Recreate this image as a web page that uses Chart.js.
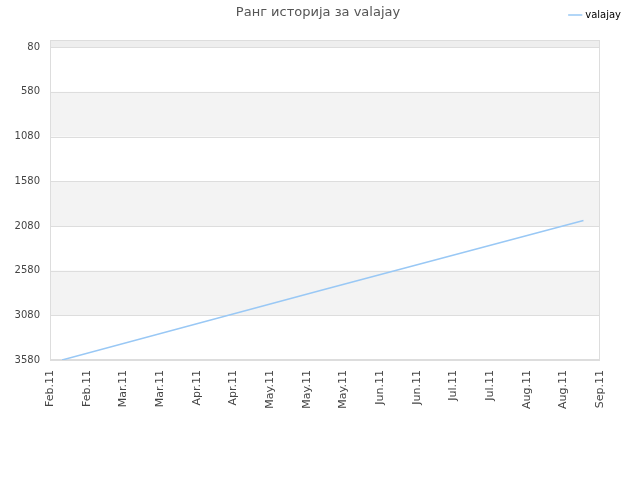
<!DOCTYPE html>
<html>
<head>
<meta charset="utf-8">
<script src="https://cdn.jsdelivr.net/npm/chart.js@4/dist/chart.umd.min.js"></script>
<style>
  body { margin: 0; background: #fff; }
  #wrap { position: relative; width: 640px; height: 480px; }
  #title { position: absolute; top: 4px; left: 0; width: 636px; text-align: center;
           font: 13px "DejaVu Sans", sans-serif; color: #555; }
</style>
</head>
<body>
<div id="wrap">
  <div id="title">Ранг историја за valajay</div>
  <canvas id="rankChart" width="640" height="480"></canvas>
</div>
<script>
// data
const xLabels = ['Feb.11', 'Feb.11', 'Mar.11', 'Mar.11', 'Apr.11', 'Apr.11', 'May.11', 'May.11',
                 'May.11', 'Jun.11', 'Jun.11', 'Jul.11', 'Jul.11', 'Aug.11', 'Aug.11', 'Sep.11'];
const rankPos = [0.33, 7.4, 14.55];
const rankValues = [3580, 2800, 2020];
const yTicks = [80, 580, 1080, 1580, 2080, 2580, 3080, 3580];
const seriesName = 'valajay';

// alternating bands + frame
const bands = {
    id: 'bands',
    beforeDatasetsDraw(chart) {
        const ctx = chart.ctx;
        const area = chart.chartArea;
        const y = chart.scales.y;
        const edges = [0].concat(yTicks);
        ctx.save();
        for (let i = 0; i < edges.length - 1; i++) {
            if (i % 2 == 1) continue;
            const y1 = y.getPixelForValue(edges[i]);
            const y2 = y.getPixelForValue(edges[i + 1]);
            ctx.fillStyle = i == 0 ? '#eeeeee' : '#f3f3f3';
            ctx.fillRect(area.left, y1, area.right - area.left, y2 - y1);
        }
        ctx.strokeStyle = '#dddddd';
        ctx.lineWidth = 1;
        for (const t of yTicks) {
            const py = Math.round(y.getPixelForValue(t)) + 0.5;
            ctx.beginPath();
            ctx.moveTo(area.left, py);
            ctx.lineTo(area.right, py);
            ctx.stroke();
        }
        ctx.strokeRect(area.left + 0.5, area.top + 0.5, area.right - area.left - 1, area.bottom - area.top - 1);
        ctx.restore();
    }
};

// empty axes used only as spacers
const spacer = size => ({
    display: true,
    grid: {display: false, drawTicks: false},
    border: {display: false},
    ticks: {display: false},
    afterFit(scale) {
        if (scale.isHorizontal()) scale.height = size; else scale.width = size;
    }
});

const ctx = document.getElementById('rankChart').getContext('2d');
new Chart(ctx, {
    type: 'line',
    data: {
        datasets: [{
            label: seriesName,
            data: rankPos.map((x, i) => ({x: x, y: rankValues[i]})),
            borderColor: '#99c8f5',
            backgroundColor: '#99c8f5',
            borderWidth: 1.5,
            pointRadius: 0,
            tension: 0
        }]
    },
    options: {
        responsive: false,
        animation: false,
        layout: {padding: {left: 0, right: 9, top: 0, bottom: 0}},
        plugins: {
            legend: {
                position: 'top',
                align: 'end',
                labels: {
                    usePointStyle: true,
                    pointStyle: 'line',
                    boxWidth: 10,
                    padding: 10,
                    color: '#000',
                    font: {family: 'DejaVu Sans', size: 10}
                }
            },
            title: {display: false},
            tooltip: {enabled: false}
        },
        scales: {
            x: {
                type: 'linear',
                min: 0,
                max: 15,
                grid: {display: false, drawTicks: false},
                border: {display: false},
                ticks: {
                    stepSize: 1,
                    autoSkip: false,
                    minRotation: 90,
                    maxRotation: 90,
                    padding: 10,
                    color: '#444',
                    font: {family: 'DejaVu Sans', size: 11},
                    callback: v => xLabels[v]
                },
                afterFit(scale) { scale.height = 120; }
            },
            y: {
                reverse: true,
                min: 0,
                max: 3580,
                afterBuildTicks(scale) { scale.ticks = yTicks.map(v => ({value: v})); },
                grid: {display: false, drawTicks: false},
                border: {display: false},
                ticks: {
                    padding: 10,
                    color: '#444',
                    font: {family: 'DejaVu Sans', size: 10},
                    callback: v => String(v)
                },
                afterFit(scale) { scale.width = 50; }
            },
            xTop: Object.assign({type: 'linear', position: 'top'}, spacer(10)),
            yRight: Object.assign({type: 'linear', position: 'right'}, spacer(31))
        }
    },
    plugins: [bands]
});
</script>
</body>
</html>
